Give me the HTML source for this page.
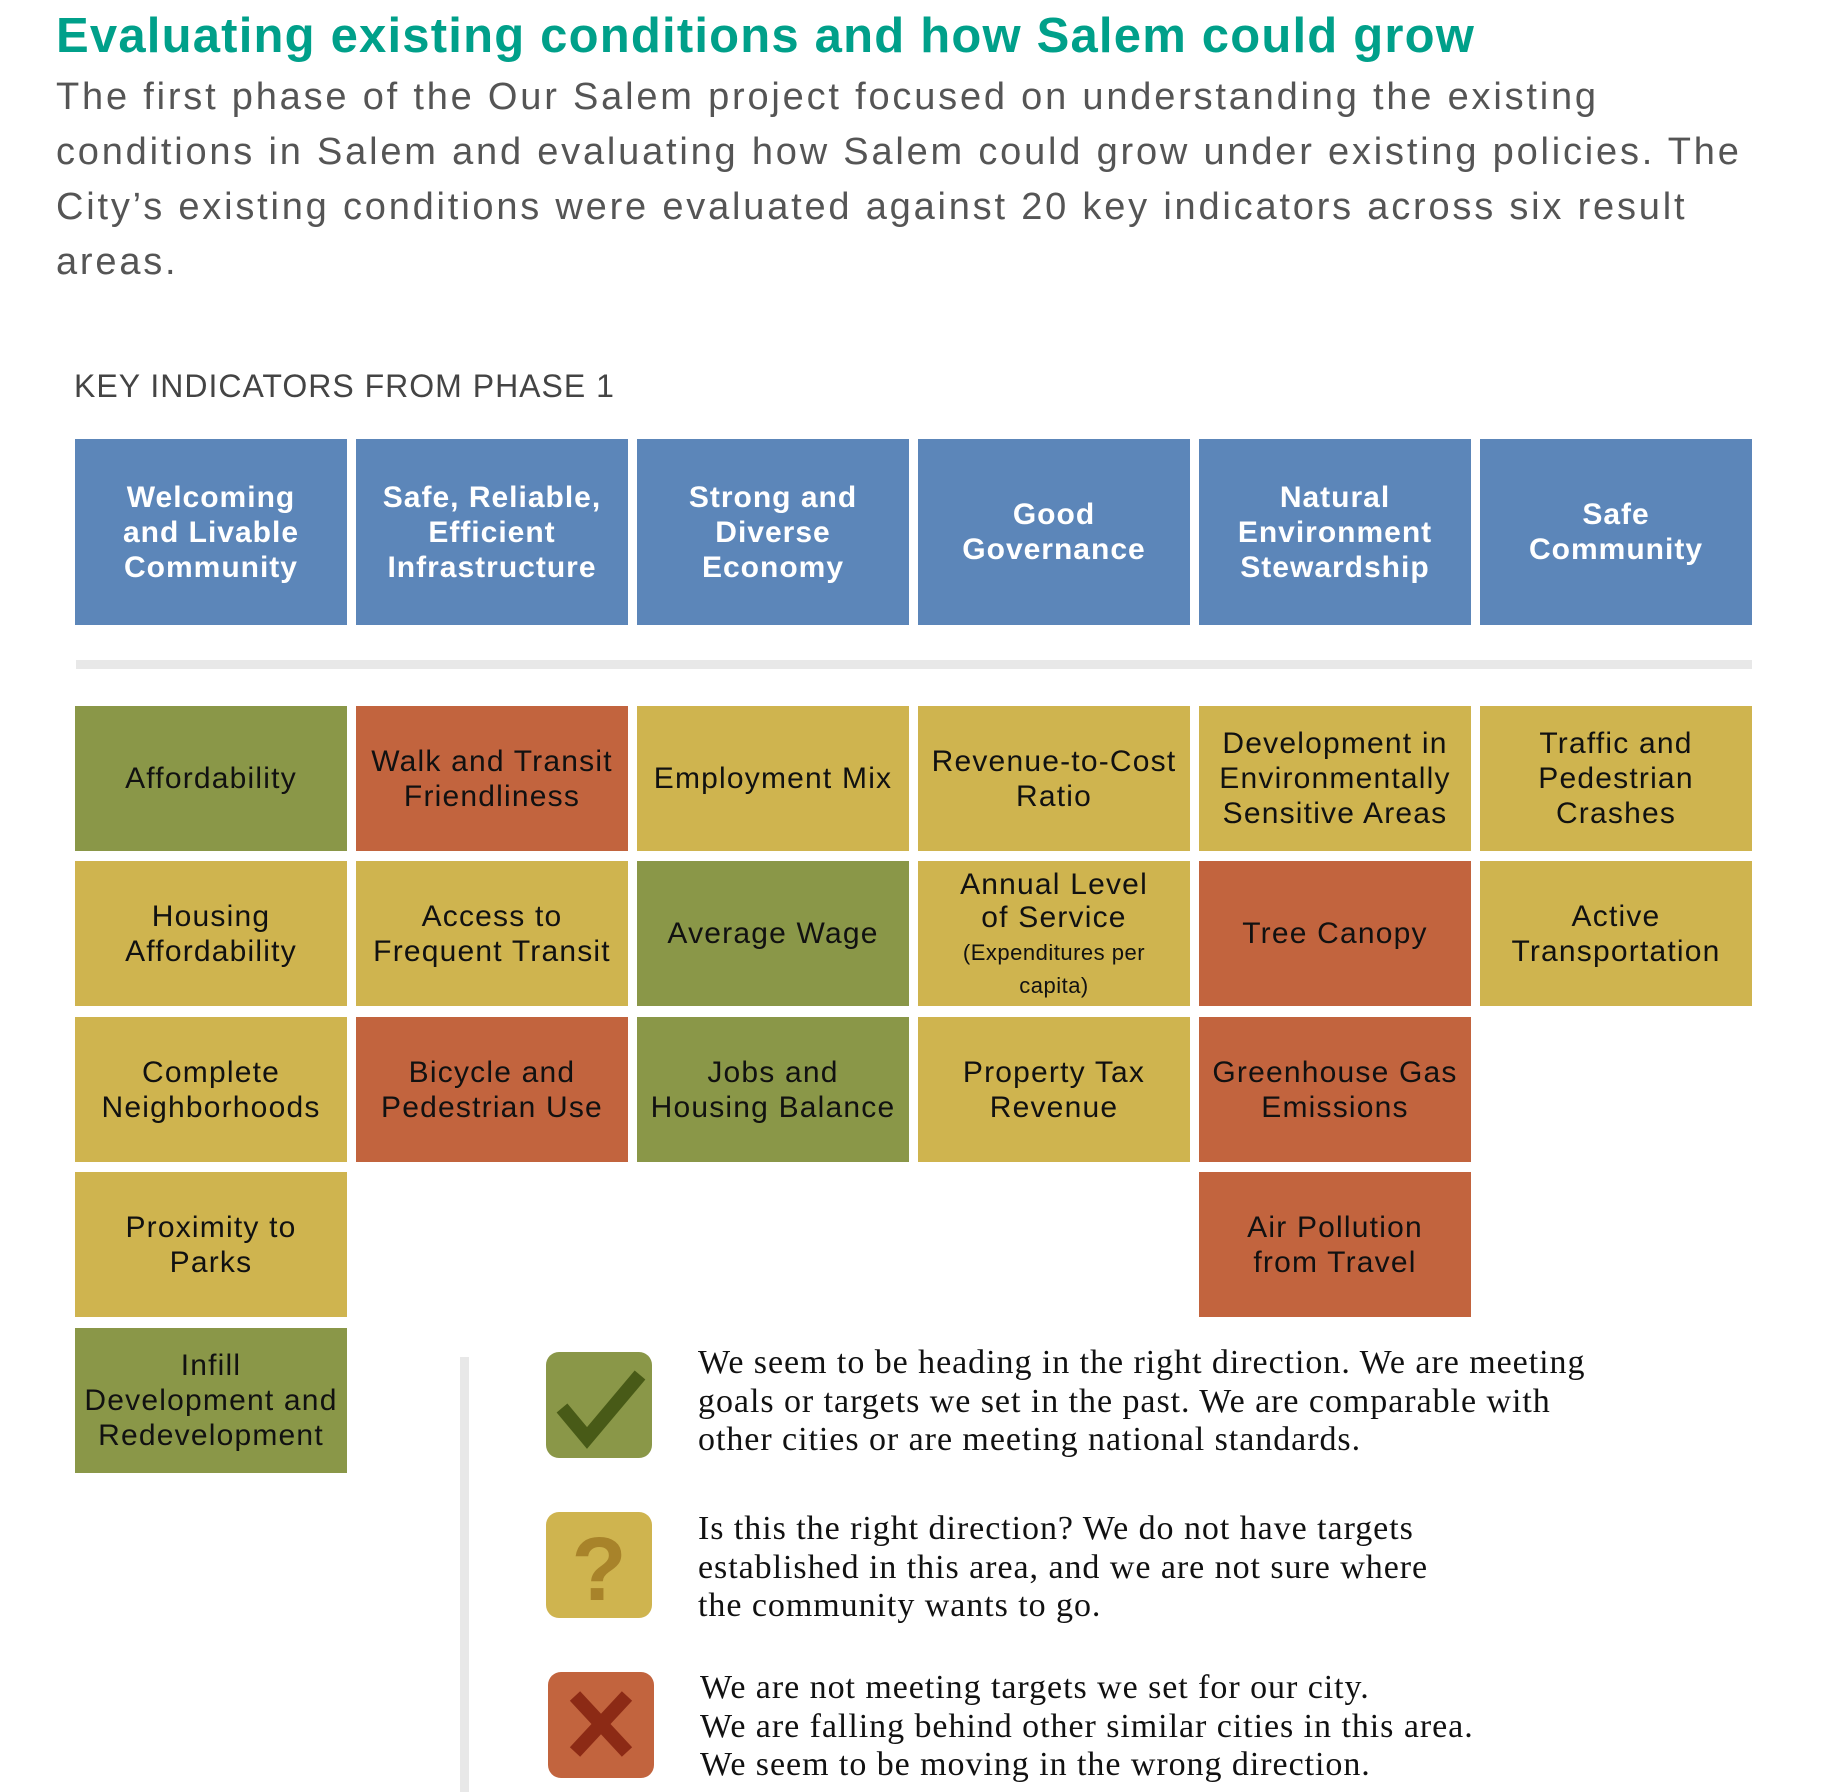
<!DOCTYPE html>
<html><head><meta charset="utf-8"><style>
*{margin:0;padding:0;box-sizing:border-box}
body{width:1830px;height:1792px;background:#fff;position:relative;overflow:hidden;font-family:"Liberation Sans",sans-serif}
.a{position:absolute}
.t{left:56px;top:8px;font-size:49px;font-weight:bold;color:#00a08a;white-space:nowrap;letter-spacing:1.2px}
.p{left:56px;top:70px;font-size:38px;line-height:55px;color:#555;white-space:nowrap;letter-spacing:2.8px}
.k{left:74px;top:368px;font-size:32px;color:#444;letter-spacing:1px;white-space:nowrap}
.b{position:absolute;width:272px;display:flex;align-items:center;justify-content:center;text-align:center}
.h{top:439px;height:186px;background:#5c86b9;color:#fff;font-weight:bold;font-size:30px;line-height:35px;letter-spacing:1px}
.i{height:145px;font-size:30px;line-height:35px;color:#111;letter-spacing:1.2px}
.g{background:#8a9748}.y{background:#cfb44f}.r{background:#c2643e}
.ic{position:absolute;width:106px;height:106px;border-radius:13px}
.lt{position:absolute;left:698px;font-family:"Liberation Serif",serif;font-size:34px;line-height:38.5px;color:#111;white-space:nowrap;letter-spacing:0.95px}
</style></head><body>
<div class="a t">Evaluating existing conditions and how Salem could grow</div>
<div class="a p">The first phase of the Our Salem project focused on understanding the existing<br>conditions in Salem and evaluating how Salem could grow under existing policies. The<br>City’s existing conditions were evaluated against 20 key indicators across six result<br>areas.</div>
<div class="a k">KEY INDICATORS FROM PHASE 1</div>

<div class="b h" style="left:75px">Welcoming<br>and Livable<br>Community</div>
<div class="b h" style="left:356px">Safe, Reliable,<br>Efficient<br>Infrastructure</div>
<div class="b h" style="left:637px">Strong and<br>Diverse<br>Economy</div>
<div class="b h" style="left:918px">Good<br>Governance</div>
<div class="b h" style="left:1199px">Natural<br>Environment<br>Stewardship</div>
<div class="b h" style="left:1480px">Safe<br>Community</div>

<div class="a" style="left:76px;top:660px;width:1676px;height:9px;background:#e8e8e8"></div>

<div class="b i g" style="left:75px;top:706px">Affordability</div>
<div class="b i y" style="left:75px;top:861px">Housing<br>Affordability</div>
<div class="b i y" style="left:75px;top:1017px">Complete<br>Neighborhoods</div>
<div class="b i y" style="left:75px;top:1172px">Proximity to<br>Parks</div>
<div class="b i g" style="left:75px;top:1328px">Infill<br>Development and<br>Redevelopment</div>

<div class="b i r" style="left:356px;top:706px">Walk and Transit<br>Friendliness</div>
<div class="b i y" style="left:356px;top:861px">Access to<br>Frequent Transit</div>
<div class="b i r" style="left:356px;top:1017px">Bicycle and<br>Pedestrian Use</div>

<div class="b i y" style="left:637px;top:706px">Employment Mix</div>
<div class="b i g" style="left:637px;top:861px">Average Wage</div>
<div class="b i g" style="left:637px;top:1017px">Jobs and<br>Housing Balance</div>

<div class="b i y" style="left:918px;top:706px">Revenue-to-Cost<br>Ratio</div>
<div class="b i y" style="left:918px;top:861px;line-height:33px"><div>Annual Level<br>of Service<br><span style="font-size:22px;line-height:27px;letter-spacing:0.5px">(Expenditures per<br>capita)</span></div></div>
<div class="b i y" style="left:918px;top:1017px">Property Tax<br>Revenue</div>

<div class="b i y" style="left:1199px;top:706px">Development in<br>Environmentally<br>Sensitive Areas</div>
<div class="b i r" style="left:1199px;top:861px">Tree Canopy</div>
<div class="b i r" style="left:1199px;top:1017px">Greenhouse Gas<br>Emissions</div>
<div class="b i r" style="left:1199px;top:1172px">Air Pollution<br>from Travel</div>

<div class="b i y" style="left:1480px;top:706px">Traffic and<br>Pedestrian<br>Crashes</div>
<div class="b i y" style="left:1480px;top:861px">Active<br>Transportation</div>

<div class="a" style="left:460px;top:1357px;width:9px;height:435px;background:#e8e8e8"></div>

<div class="ic g" style="left:546px;top:1352px"><svg width="106" height="106"><polyline points="16,56 41,86 94,23" fill="none" stroke="#485a17" stroke-width="14"/></svg></div>
<div class="ic y" style="left:546px;top:1512px"><svg width="106" height="106"><text x="53" y="88" text-anchor="middle" font-family="Liberation Sans,sans-serif" font-weight="bold" font-size="90" fill="#a8832a">?</text></svg></div>
<div class="ic r" style="left:548px;top:1672px"><svg width="106" height="106"><path d="M27 24 L79 80 M79 24 L27 80" stroke="#8c2a15" stroke-width="14"/></svg></div>

<div class="lt" style="top:1344px">We seem to be heading in the right direction. We are meeting<br>goals or targets we set in the past. We are comparable with<br>other cities or are meeting national standards.</div>
<div class="lt" style="top:1510px">Is this the right direction? We do not have targets<br>established in this area, and we are not sure where<br>the community wants to go.</div>
<div class="lt" style="top:1669px;left:700px">We are not meeting targets we set for our city.<br>We are falling behind other similar cities in this area.<br>We seem to be moving in the wrong direction.</div>
</body></html>
